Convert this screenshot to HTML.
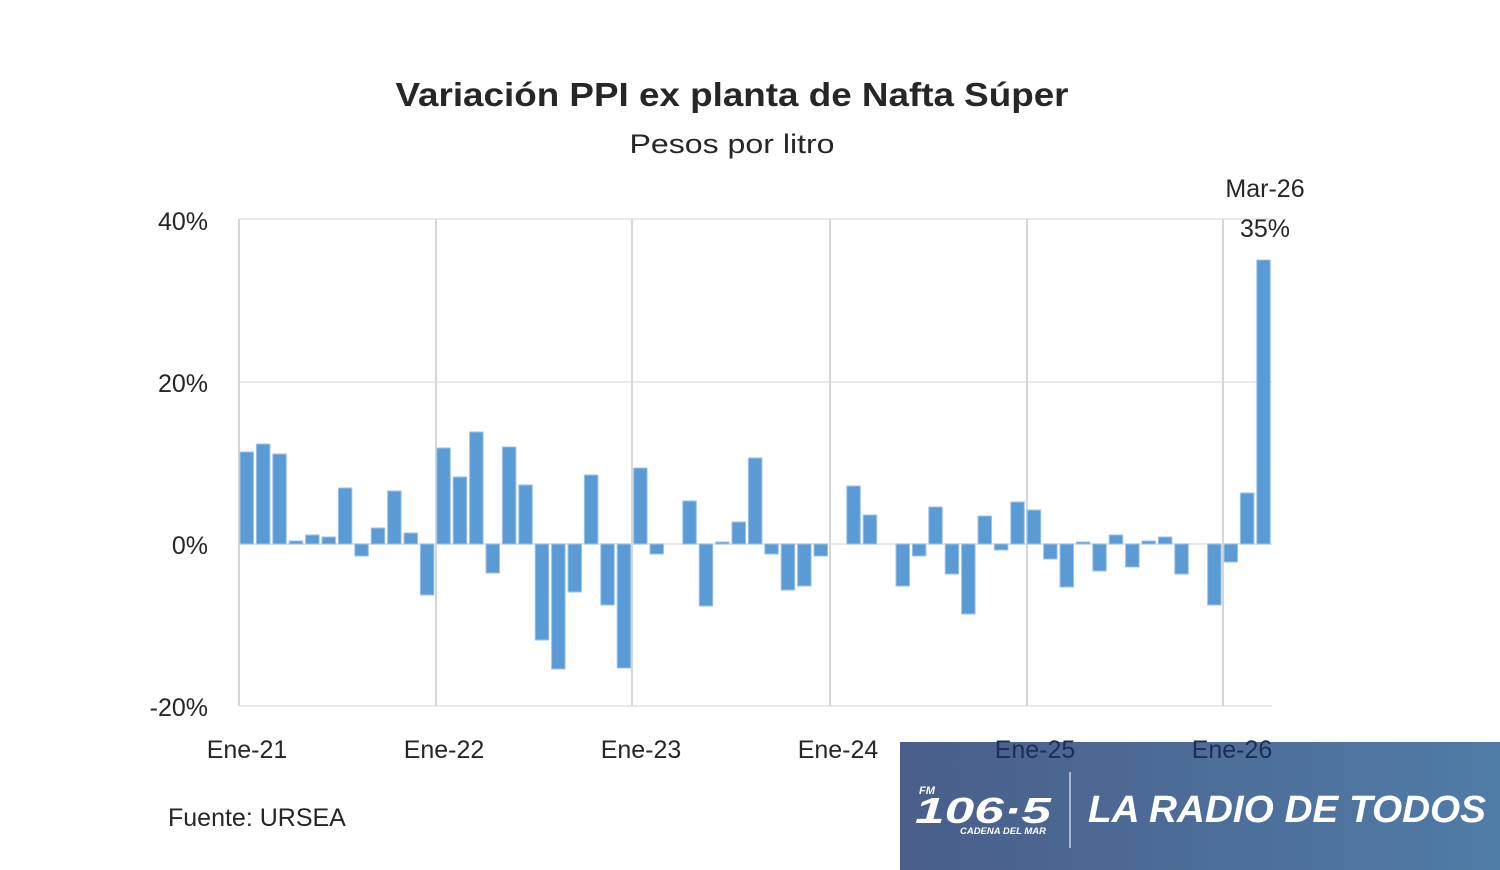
<!DOCTYPE html>
<html><head><meta charset="utf-8"><style>
html,body{margin:0;padding:0;background:#fff;width:1500px;height:870px;overflow:hidden}
svg{display:block}
text{font-family:"Liberation Sans",sans-serif}
</style></head><body>
<svg width="1500" height="870" viewBox="0 0 1500 870" xmlns="http://www.w3.org/2000/svg">
<defs>
<linearGradient id="bg" x1="0" x2="1" y1="0" y2="0"><stop offset="0" stop-color="#4a5e8a"/><stop offset="1" stop-color="#4f7ca6"/></linearGradient>
</defs>
<rect width="1500" height="870" fill="#fff"/>
<text x="732" y="106" text-anchor="middle" font-size="33" font-weight="bold" fill="#262626" textLength="673" lengthAdjust="spacingAndGlyphs">Variación PPI ex planta de Nafta Súper</text>
<text x="732" y="153" text-anchor="middle" font-size="27" fill="#262626" textLength="205" lengthAdjust="spacingAndGlyphs">Pesos por litro</text>
<g stroke="#e4e4e4" stroke-width="1.5">
<line x1="239" y1="219" x2="1272" y2="219"/>
<line x1="239" y1="382" x2="1272" y2="382"/>
<line x1="239" y1="706" x2="1272" y2="706"/>
</g>
<g stroke="#d6d6d6" stroke-width="2">
<line x1="239" y1="219" x2="239" y2="706"/>
<line x1="436" y1="219" x2="436" y2="706"/>
<line x1="632" y1="219" x2="632" y2="706"/>
<line x1="830" y1="219" x2="830" y2="706"/>
<line x1="1027" y1="219" x2="1027" y2="706"/>
<line x1="1223" y1="219" x2="1223" y2="706"/>
</g>
<line x1="239" y1="544" x2="1272" y2="544" stroke="#e0e0e0" stroke-width="1.5"/>
<g font-size="25" fill="#262626" text-anchor="end">
<text x="208" y="230">40%</text>
<text x="208" y="392">20%</text>
<text x="208" y="554">0%</text>
<text x="208" y="716">-20%</text>
</g>
<g id="bars" fill="#5b9bd5" stroke="#9cc3e8" stroke-width="1"></g>
<text x="1265" y="197" text-anchor="middle" font-size="25" fill="#262626">Mar-26</text>
<text x="1265" y="237" text-anchor="middle" font-size="25" fill="#262626">35%</text>
<text x="168" y="826" font-size="25" fill="#262626">Fuente: URSEA</text>
<rect x="900" y="742" width="600" height="128" fill="url(#bg)"/>
<g font-size="25" fill="#262626" text-anchor="middle">
<text x="247" y="758">Ene-21</text>
<text x="444" y="758">Ene-22</text>
<text x="641" y="758">Ene-23</text>
<text x="838" y="758">Ene-24</text>
<text x="1035" y="758" fill="#1c2e55">Ene-25</text>
<text x="1232" y="758" fill="#1c2e55">Ene-26</text>
</g>
<text x="919" y="794" font-size="11" font-weight="bold" font-style="italic" fill="#fff">FM</text>
<text x="915" y="823" font-size="36" font-weight="bold" font-style="italic" fill="#fff" textLength="136" lengthAdjust="spacingAndGlyphs">106·5</text>
<text x="1046" y="834" font-size="9.5" font-weight="bold" font-style="italic" fill="#fff" text-anchor="end">CADENA DEL MAR</text>
<line x1="1070" y1="772" x2="1070" y2="848" stroke="#c8d4e6" stroke-width="1.5"/>
<text x="1088" y="822" font-size="38" font-weight="bold" font-style="italic" fill="#fff" textLength="398" lengthAdjust="spacingAndGlyphs">LA RADIO DE TODOS</text>
</svg>
<script>
var v=[92,100,90,3,9,7,56,-12,16,53,11,-51,96,67,112,-29,97,59,-96,-125,-48,69,-61,-124,76,-10,0,43,-62,2,22,86,-10,-46,-42,-12,0,58,29,0,-42,-12,37,-30,-70,28,-6,42,34,-15,-43,2,-27,9,-23,3,7,-30,0,-61,-18,51,284];
var g=document.getElementById('bars'),ns='http://www.w3.org/2000/svg';
v.forEach(function(h,i){if(h===0)return;var r=document.createElementNS(ns,'rect');var x=240+16.4*i;r.setAttribute('x',x.toFixed(1));r.setAttribute('width','13.5');r.setAttribute('y',h>0?544-h:544);r.setAttribute('height',Math.abs(h));g.appendChild(r);});
</script>
</body></html>
